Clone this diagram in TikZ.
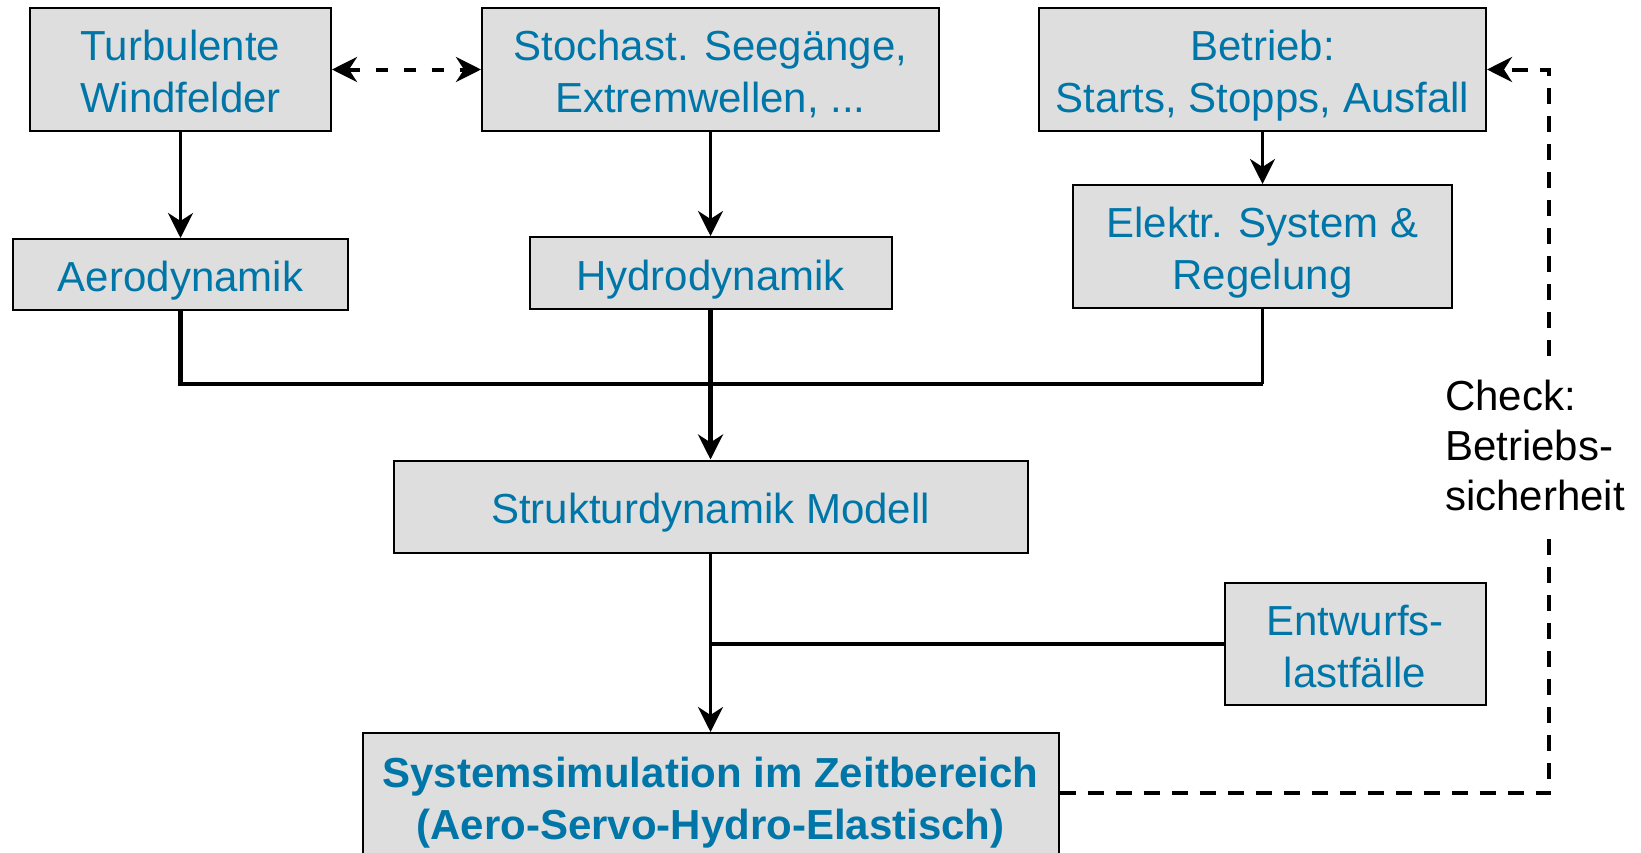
\documentclass[tikz,border=0pt]{standalone}
\usepackage{fontspec}
\setmainfont{Liberation Sans}
\usetikzlibrary{arrows.meta}
\definecolor{txtblue}{RGB}{0,118,168}
\definecolor{boxgray}{RGB}{222,222,222}
\newcommand\ls{\rule[-9pt]{0pt}{52pt}}
\tikzset{
  blk/.style={draw=black, line width=2pt, fill=boxgray, text=txtblue,
    font=\fontsize{42}{52}\selectfont, align=center, inner sep=0pt},
  tipa/.tip={Stealth[length=25pt,width=25pt,inset=8pt]},
  arr/.style={line width=3.5pt, -tipa},
  plain/.style={line width=3.5pt},
  heavy/.style={line width=4.5pt, line join=miter},
  dshshort/.style={line width=4pt, dash pattern=on 12pt off 16pt},
  dsh/.style={line width=4pt, dash pattern=on 16pt off 12pt},
  lbl/.style={font=\fontsize{42}{50}\selectfont, text=black, align=left, inner sep=0pt}
}
\begin{document}
\begin{tikzpicture}[x=1pt,y=-1pt]
\useasboundingbox (0,0) rectangle (1641,852);
\node[blk, minimum width=301pt, minimum height=123pt] (turb) at (180.5,69.5) {\ls Turbulente\\\ls Windfelder};
\node[blk, minimum width=457pt, minimum height=123pt] (stoch) at (710.5,69.5) {\ls Stochast. Seegänge,\\\ls Extremwellen, ...};
\node[blk, minimum width=447pt, minimum height=123pt] (betr) at (1262.5,69.5) {\ls Betrieb:\\\ls Starts, Stopps, Ausfall};
\node[blk, minimum width=335pt, minimum height=71pt] (aero) at (180.5,274.5) {\ls Aerodynamik};
\node[blk, minimum width=362pt, minimum height=72pt] (hydro) at (710.5,273) {\ls Hydrodynamik};
\node[blk, minimum width=379pt, minimum height=123pt] (elek) at (1262.5,246.5) {\ls Elektr. System \&\\\ls Regelung};
\node[blk, minimum width=634pt, minimum height=92pt] (strukt) at (710.5,506.5) {\ls Strukturdynamik Modell};
\node[blk, minimum width=261pt, minimum height=122pt] (entw) at (1355,644) {\ls Entwurfs-\\\ls lastfälle};
\node[blk, font=\fontsize{42}{52}\selectfont\bfseries, minimum width=696pt, minimum height=126pt] (sys) at (710.5,796) {\ls Systemsimulation im Zeitbereich\\\ls (Aero-Servo-Hydro-Elastisch)};
\node[lbl, anchor=west] (check) at (1445,445) {Check:\\Betriebs-\\sicherheit};

\coordinate (m) at (0,384);
\coordinate (fb) at (1549,0);
\coordinate (fblow) at (0,793);
\coordinate (glow) at (0,539);
\coordinate (ghigh) at (0,356);

\draw[dshshort, tipa-tipa] (turb.east) -- (stoch.west);
\draw[arr] (turb.south) -- (aero.north);
\draw[arr] (stoch.south) -- (hydro.north);
\draw[arr] (betr.south) -- (elek.north);
\draw[heavy] (aero.south) -- (aero.south |- m) -- (elek.south |- m);
\draw[plain] (elek.south |- m) -- (elek.south);
\draw[heavy, -tipa] (hydro.south) -- (strukt.north);
\draw[arr] (strukt.south) -- (sys.north);
\draw[plain] (entw.west) -- (entw.west -| strukt.south);
\draw[dsh] (sys.east |- fblow) -| (fb |- glow);
\draw[dsh, -tipa] (fb |- ghigh) |- (betr.east);
\end{tikzpicture}
\end{document}
